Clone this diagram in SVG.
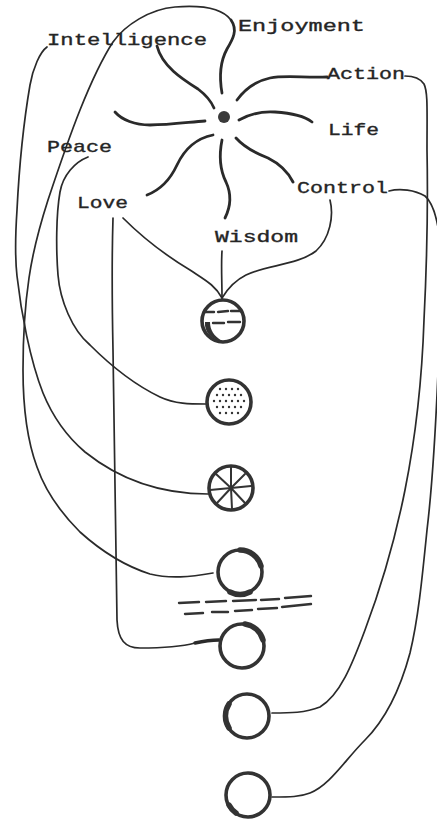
<svg xmlns="http://www.w3.org/2000/svg" width="437" height="821" viewBox="0 0 437 821">
<style>
.lbl{font-family:"Liberation Mono","DejaVu Sans Mono",monospace;font-size:17px;fill:#252525;stroke:#252525;stroke-width:0.35}
.petal{fill:none;stroke:#2a2a2a;stroke-width:2.8;stroke-linecap:round}
.conn{fill:none;stroke:#2a2a2a;stroke-width:1.7;stroke-linecap:round}
.ring{fill:none;stroke:#333;stroke-width:3.6}
.thick{fill:none;stroke:#333;stroke-width:5.5;stroke-linecap:round}
.dot{fill:#333}
.mark{stroke:#333;stroke-width:2.4;stroke-linecap:round}
</style>
<rect width="437" height="821" fill="#ffffff"/>
<g id="connectors">
<path class="petal" d="M157,46 C162,66 182,79 198,89 C206,95 211,101 214,108"/>
<path class="petal" d="M222,93 C219,76 221,60 227,49 C233,39 238,30 231,20"/>
<path class="conn" d="M231,20 C222,8 200,5 175,7 C150,9 125,25 113,42 C100,62 90,85 80,110 C68,140 58,170 48,200 C40,225 33,250 29,278 C25,305 23,340 23,370 C23,405 27,440 37,467 C45,490 60,512 80,532 C100,550 125,566 150,574 C170,579 190,577 213,573"/>
<path class="conn" d="M47,47 C40,52 33,68 30,85 C24,120 19,170 17,210 C15,240 15,258 17,276 C21,312 30,360 43,393 C52,415 65,435 85,452 C110,472 150,494 208,494"/>
<path class="conn" d="M88,157 C75,162 63,175 60,192 C56,215 56,250 58,275 C60,300 72,330 90,345 C110,365 135,385 160,397 C175,404 190,404 206,404"/>
<path class="conn" d="M113,218 C112,250 112,300 113,350 C114,450 116,550 117,620 C118,640 125,648 140,648 C160,648 180,647 195,643"/>
<path class="petal" d="M195,643 C204,641 210,640 219,640" style="stroke-width:3.4"/>
<path class="conn" d="M123,218 C140,235 165,255 190,270 C205,280 215,285 222,298"/>
<path class="conn" d="M222,251 C221,265 222,280 222,298"/>
<path class="conn" d="M330,200 C334,216 330,238 316,251 C298,265 266,265 246,275 C236,280 228,288 222,298"/>
<path class="petal" d="M237,100 C245,89 256,81 270,78 C285,75 305,78 327,77"/>
<path class="conn" d="M405,76 C413,76 420,78 424,84 C428,92 427,110 427,150 C428,200 427,260 424,320 C422,380 415,440 405,490 C395,540 380,590 365,630 C352,665 340,695 320,707 C305,713 290,713 272,713"/>
<path class="conn" d="M389,191 C400,188 415,190 425,196 C435,205 440,230 441,260 C442,300 440,340 438,373 C436,420 433,480 427,530 C422,580 418,620 410,653 C400,690 385,720 365,740 C345,760 330,785 310,793 C300,797 290,797 272,797"/>
<path class="petal" d="M239,120 C250,114 262,111 275,112 C290,113 303,115 312,122"/>
<path class="petal" d="M115,112 C122,120 135,125 150,125 C170,125 190,122 205,121"/>
<path class="petal" d="M147,195 C160,190 170,180 177,165 C185,148 198,138 213,135"/>
<path class="petal" d="M222,140 C219,155 220,170 226,182 C232,195 230,208 225,218"/>
<path class="petal" d="M236,138 C245,148 255,153 268,158 C280,164 288,172 293,182"/>
</g>
<g id="center">
<circle cx="224" cy="117" r="6" fill="#3a3a3a"/>
</g>
<g id="labels">
<text id="intelligence" class="lbl" x="47" y="45" textLength="160" lengthAdjust="spacingAndGlyphs">Intelligence</text>
<text id="enjoyment" class="lbl" x="238" y="31" textLength="127" lengthAdjust="spacingAndGlyphs">Enjoyment</text>
<text id="action" class="lbl" x="327" y="79" textLength="78" lengthAdjust="spacingAndGlyphs">Action</text>
<text id="life" class="lbl" x="328" y="135" textLength="51" lengthAdjust="spacingAndGlyphs">Life</text>
<text id="peace" class="lbl" x="47" y="152" textLength="65" lengthAdjust="spacingAndGlyphs">Peace</text>
<text id="love" class="lbl" x="77" y="208" textLength="51" lengthAdjust="spacingAndGlyphs">Love</text>
<text id="wisdom" class="lbl" x="215" y="242" textLength="83" lengthAdjust="spacingAndGlyphs">Wisdom</text>
<text id="control" class="lbl" x="297" y="193" textLength="91" lengthAdjust="spacingAndGlyphs">Control</text>
</g>
<g id="circle-1">
<circle class="ring" cx="223" cy="321" r="21"/>
<path d="M205,322 C204,332 212,340 222,341 C214,336 210,330 210,322 Z" fill="#333"/>
<line class="mark" x1="204" y1="312" x2="214" y2="312"/>
<line class="mark" x1="218" y1="312" x2="228" y2="311"/>
<line class="mark" x1="231" y1="311" x2="242" y2="311"/>
<line class="mark" x1="213" y1="323" x2="224" y2="323"/>
<line class="mark" x1="228" y1="322" x2="240" y2="322"/>
</g>
<g id="circle-2">
<circle class="ring" cx="229" cy="402" r="22"/>
<g class="dot">
<circle cx="220" cy="389" r="1.2"/><circle cx="226" cy="389" r="1.2"/><circle cx="232" cy="389" r="1.2"/><circle cx="238" cy="389" r="1.2"/>
<circle cx="217" cy="395" r="1.2"/><circle cx="223" cy="395" r="1.2"/><circle cx="229" cy="395" r="1.2"/><circle cx="235" cy="395" r="1.2"/><circle cx="241" cy="395" r="1.2"/>
<circle cx="214" cy="401" r="1.2"/><circle cx="220" cy="401" r="1.2"/><circle cx="226" cy="401" r="1.2"/><circle cx="232" cy="401" r="1.2"/><circle cx="238" cy="401" r="1.2"/><circle cx="244" cy="401" r="1.2"/>
<circle cx="217" cy="407" r="1.2"/><circle cx="223" cy="407" r="1.2"/><circle cx="229" cy="407" r="1.2"/><circle cx="235" cy="407" r="1.2"/><circle cx="241" cy="407" r="1.2"/>
<circle cx="220" cy="413" r="1.2"/><circle cx="226" cy="413" r="1.2"/><circle cx="232" cy="413" r="1.2"/><circle cx="238" cy="413" r="1.2"/>
</g>
</g>
<g id="circle-3">
<circle class="ring" cx="231" cy="488" r="22"/>
<g class="mark" style="stroke-width:2">
<line x1="231" y1="488" x2="231" y2="467"/>
<line x1="231" y1="488" x2="245" y2="474"/>
<line x1="231" y1="488" x2="251" y2="486"/>
<line x1="231" y1="488" x2="245" y2="503"/>
<line x1="231" y1="488" x2="232" y2="509"/>
<line x1="231" y1="488" x2="217" y2="503"/>
<line x1="231" y1="488" x2="210" y2="490"/>
<line x1="231" y1="488" x2="216" y2="474"/>
</g>
</g>
<g id="circle-4">
<circle class="ring" cx="240" cy="572" r="22"/>
<path class="thick" d="M240,550 A22,22 0 0 1 261,566"/>
<path class="thick" d="M230,592 A22,22 0 0 0 250,592"/>
</g>
<g id="divider">
<g class="mark">
<line x1="179" y1="603" x2="199" y2="602"/>
<line x1="206" y1="602" x2="226" y2="601"/>
<line x1="233" y1="601" x2="256" y2="600"/>
<line x1="261" y1="600" x2="279" y2="599"/>
<line x1="285" y1="598" x2="311" y2="596"/>
<line x1="185" y1="614" x2="203" y2="613"/>
<line x1="212" y1="612" x2="228" y2="612"/>
<line x1="235" y1="611" x2="252" y2="610"/>
<line x1="258" y1="609" x2="277" y2="608"/>
<line x1="282" y1="607" x2="311" y2="604"/>
</g>
</g>
<g id="circle-5">
<circle class="ring" cx="242" cy="646" r="22"/>
<path class="thick" d="M245,624 A22,22 0 0 1 263,640"/>
</g>
<g id="circle-6">
<circle class="ring" cx="247" cy="716" r="22"/>
<path class="thick" d="M229,704 A22,22 0 0 0 229,728"/>
</g>
<g id="circle-7">
<circle class="ring" cx="248" cy="795" r="22"/>
<path class="thick" d="M229,805 A22,22 0 0 0 236,813"/>
</g>
</svg>
